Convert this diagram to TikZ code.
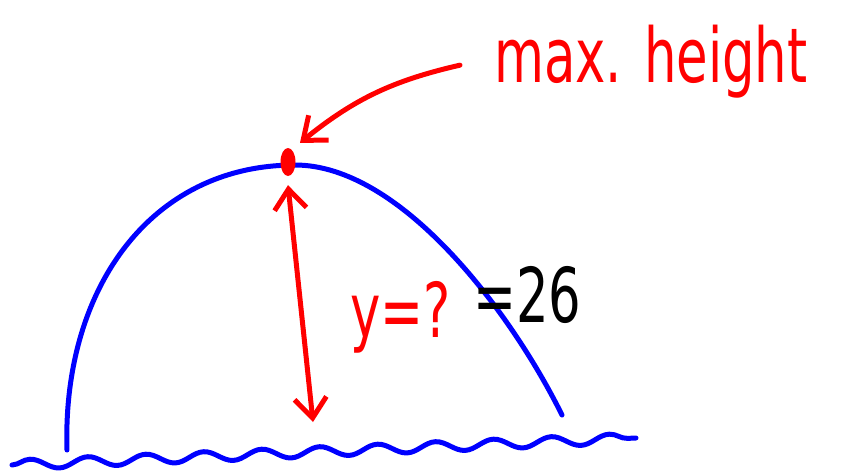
\documentclass[tikz,border=0pt]{standalone}
\usepackage{fontspec}
\usepackage{graphicx}
\setmainfont{DejaVu Sans}
\usetikzlibrary{arrows.meta, positioning, shapes.geometric, decorations.pathmorphing}
\definecolor{skred}{HTML}{FF0000}
\definecolor{skblue}{HTML}{0000FF}
\newcommand{\tallhand}[1]{\scalebox{0.95}[1.4]{#1}}

\begin{document}
\begin{tikzpicture}[
  x=1pt, y=-1pt,
  every node/.style={inner sep=0pt},
  hand/.style={font=\fontsize{54}{60}\selectfont},
  trajectory/.style={draw=skblue, line width=5pt, line cap=round},
  ground/.style={draw=skblue, line width=5pt, line cap=round, decorate, decoration={snake, segment length=58pt, amplitude=5pt}},
  pointer/.style={draw=skred, line width=5pt, line cap=round, -{Straight Barb[length=20pt, width=32pt]}},
  measure/.style={draw=skred, line width=5pt, line cap=round, {Straight Barb[length=20pt, width=32pt]}-{Straight Barb[length=20pt, width=32pt]}},
]
\useasboundingbox (0,0) rectangle (844,472);

% ball path and water
\coordinate (launch) at (67,450);
\coordinate (apex) at (295,165);
\coordinate (landing) at (562,415);
\draw[trajectory] (launch) .. controls (62,290) and (150,165) .. (apex) .. controls (400,165) and (510,310) .. (landing);

\coordinate (shore) at (12,465);
\coordinate (sea) at (636,438);
\draw[ground] (shore) -- (sea);

% highest point
\node[ellipse, fill=skred, minimum width=15pt, minimum height=28pt] (top) at (288,162) {};
\node[hand, text=skred, anchor=base west] (label) at (494,82) {\tallhand{max. height}};
\draw[pointer] ([xshift=-34pt, yshift=-4pt]label.west) to[bend right=13] ([xshift=12pt, yshift=5pt]top.north);

% height
\coordinate (base) at (313,422);
\draw[measure] ([yshift=-9pt]top.south) -- (base);
\node[hand, text=skred, anchor=base west] (guess) at (350,337) {\tallhand{y=?}};
\node[hand, anchor=base west] (answer) at (473,322) {\tallhand{=26}};

\end{tikzpicture}
\end{document}
